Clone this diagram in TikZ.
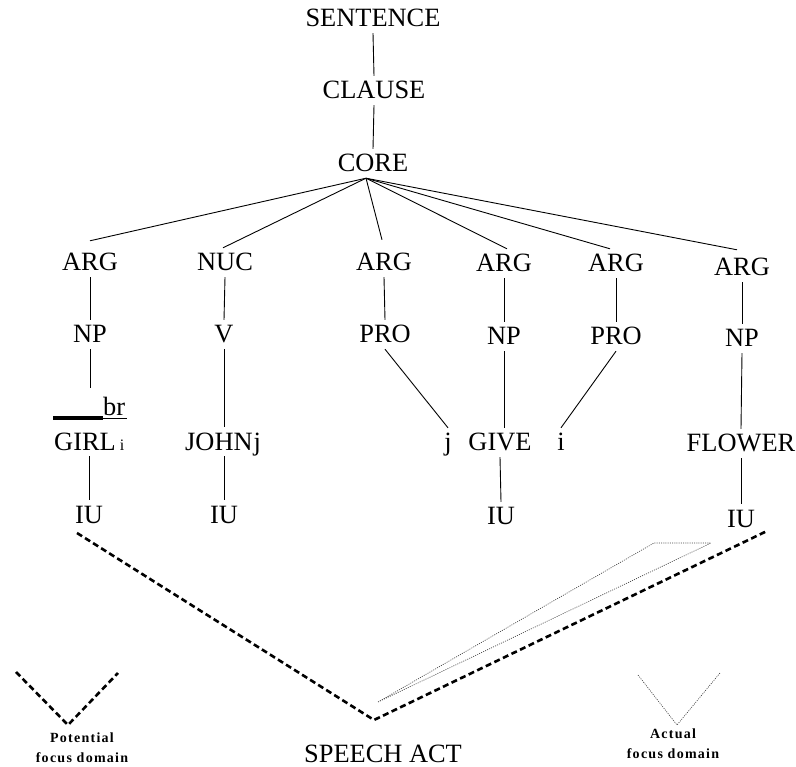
\documentclass[tikz,border=0pt]{standalone}
\usepackage{fontspec}
\setmainfont{Liberation Serif}
\usetikzlibrary{calc}
\begin{document}
\begin{tikzpicture}[x=1pt,y=-1pt,
  lbl/.style={anchor=base, inner sep=6pt, text height=17pt, text depth=0pt,
              font=\fontsize{26.4}{30}\selectfont},
  branch/.style={line width=0.9pt},
  heavydash/.style={line width=2.6pt, dash pattern=on 6pt off 3.5pt},
  finedot/.style={line width=0.65pt, black!75, dash pattern=on 1pt off 1.2pt},
  note/.style={font=\fontsize{14}{20}\selectfont\bfseries\addfontfeature{LetterSpace=9},
               align=center, inner sep=0pt}
]
\useasboundingbox (0,0) rectangle (796,767);

% clause spine
\node[lbl] (sentence) at (373,27) {SENTENCE};
\node[lbl] (clause)   at (374,99) {CLAUSE};
\node[lbl] (core)     at (373,172) {CORE};

% arguments and nucleus
\node[lbl] (arg1) at (90,271)  {ARG};
\node[lbl] (nuc)  at (225,271) {NUC};
\node[lbl] (arg3) at (384,271) {ARG};
\node[lbl] (arg4) at (504,272) {ARG};
\node[lbl] (arg5) at (616,272) {ARG};
\node[lbl] (arg6) at (742,276) {ARG};

\node[lbl] (np1)  at (90,343)  {NP};
\node[lbl] (v)    at (224,343) {V};
\node[lbl] (pro3) at (385,343) {PRO};
\node[lbl] (np4)  at (504,345) {NP};
\node[lbl] (pro5) at (616,345) {PRO};
\node[lbl] (np6)  at (742,347) {NP};

% words
\node[anchor=base west, inner sep=0pt, font=\fontsize{26.4}{30}\selectfont] (brmark) at (53,416)
  {\rule[-4pt]{50pt}{3.5pt}\rlap{\rule[-2.4pt]{24pt}{0.8pt}}br};
\node[lbl, anchor=base west] (girl) at (48,450) {GIRL\hspace{4pt}{\fontsize{16}{16}\selectfont i}};
\node[lbl, anchor=base west] (john) at (179,450) {JOHN\hspace{1pt}j};
\node[lbl] (j1)     at (448,451) {j};
\node[lbl] (give)   at (500,451) {GIVE};
\node[lbl] (i1)     at (561,451) {i};
\node[lbl] (flower) at (741,452) {FLOWER};

% intonation units
\node[lbl] (iu1) at (89,523)  {IU};
\node[lbl] (iu2) at (224,523) {IU};
\node[lbl] (iu4) at (501,525) {IU};
\node[lbl] (iu6) at (741,527) {IU};

\node[lbl] (speech) at (383,762) {SPEECH ACT};

% tree branches
\draw[branch] (sentence.south) -- (clause.north);
\draw[branch] (clause.south) -- (core.north);
\coordinate (fan) at ([xshift=-7pt]core.south);
\draw[branch] (fan) -- ([yshift=7pt]arg1.north);
\draw[branch] (fan) -- ([xshift=-2pt]nuc.north);
\draw[branch] (fan) -- ([xshift=-2pt,yshift=8pt]arg3.north);
\draw[branch] (fan) -- ([xshift=3pt]arg4.north);
\draw[branch] (fan) -- ([xshift=-6pt]arg5.north);
\draw[branch] (fan) -- ([xshift=-5pt,yshift=3pt]arg6.north);

\draw[branch] (arg1.south) -- (np1.north);
\draw[branch] (nuc.south) -- (v.north);
\draw[branch] (arg3.south) -- (pro3.north);
\draw[branch] (arg4.south) -- (np4.north);
\draw[branch] (arg5.south) -- (pro5.north);
\draw[branch] (arg6.south) -- (np6.north);

\coordinate (npcut) at (90,388);
\draw[branch] (np1.south) -- (npcut);
\draw[branch] (v.south) -- (v.south |- john.north);
\draw[branch] (pro3.south) -- (j1.north);
\draw[branch] (np4.south) -- (np4.south |- give.north);
\draw[branch] (pro5.south) -- (i1.north);
\draw[branch] (np6.south) -- (flower.north);

\draw[branch] (girl.south -| iu1.north) -- (iu1.north);
\draw[branch] (john.south -| iu2.north) -- (iu2.north);
\draw[branch] (give.south) -- (iu4.north);
\draw[branch] (flower.south) -- (iu6.north);

% speech act domain
\coordinate (lefttop)  at (77,533);
\coordinate (apex)     at (374,720);
\coordinate (righttop) at (767,531);
\draw[heavydash] (lefttop) -- (apex) -- (righttop);

% actual focus wedge
\coordinate (t1) at (378,702);
\coordinate (t2) at (654,543);
\coordinate (t3) at (711,543);
\draw[finedot] (t1) -- (t2) -- (t3) -- cycle;

% legend
\coordinate (pv1) at (16,672);
\coordinate (pv2) at (68,725);
\coordinate (pv3) at (118,673);
\draw[heavydash] (pv1) -- (pv2) -- (pv3);
\node[note, anchor=north] (potential) at (82,733) {Potential\\focus domain};

\coordinate (av1) at (638,675);
\coordinate (av2) at (677,725);
\coordinate (av3) at (720,673);
\draw[finedot] (av1) -- (av2) -- (av3);
\node[note, anchor=north] (actual) at (673,729) {Actual\\focus domain};
\end{tikzpicture}
\end{document}
